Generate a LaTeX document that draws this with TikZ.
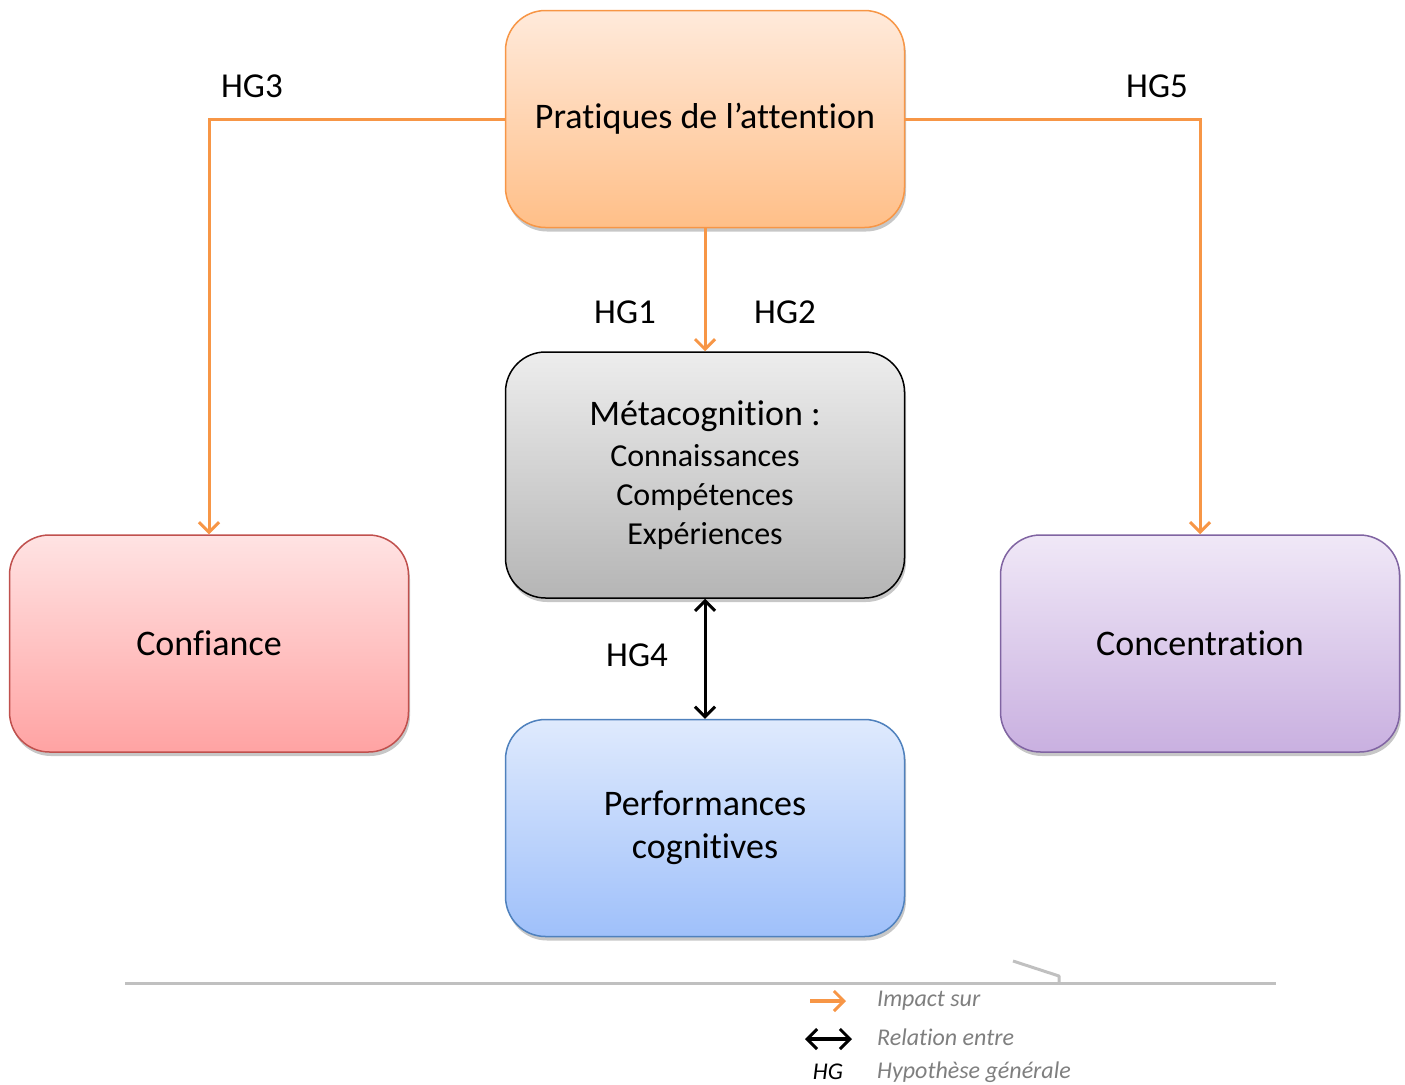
\documentclass[tikz,border=0pt]{standalone}
\usepackage{fontspec}
\setmainfont{Carlito}[Ligatures={NoCommon}]
\usetikzlibrary{arrows.meta,shadows}
\definecolor{orangeline}{HTML}{F79646}
\definecolor{legendgray}{HTML}{C0C0C0}
\definecolor{textgray}{HTML}{7F7F7F}
\definecolor{oTop}{HTML}{FFEADB}
\definecolor{oBot}{HTML}{FFBF88}
\definecolor{gTop}{HTML}{EDEDED}
\definecolor{gBot}{HTML}{B5B5B5}
\definecolor{rLine}{HTML}{C0504D}
\definecolor{rTop}{HTML}{FFE3E3}
\definecolor{rBot}{HTML}{FFA3A3}
\definecolor{pLine}{HTML}{8064A2}
\definecolor{pTop}{HTML}{F0E8F7}
\definecolor{pBot}{HTML}{C9B0E0}
\definecolor{bLine}{HTML}{4F81BD}
\definecolor{bTop}{HTML}{DFEAFD}
\definecolor{bBot}{HTML}{9FC0FA}
\tikzset{
  box/.style={rectangle, rounded corners=40pt, minimum width=399pt, minimum height=217pt,
    line width=1.5pt, align=center, inner sep=0pt,
    font=\fontsize{36}{44}\selectfont,
    drop shadow={shadow xshift=1.5pt, shadow yshift=-4pt, opacity=0.22, fill=black}},
  impact/.style={draw=orangeline, line width=3pt, -{Straight Barb[length=10pt,width=20pt,line width=3pt]}},
  relation/.style={draw=black, line width=3pt, {Straight Barb[length=10pt,width=20pt,line width=3pt]}-{Straight Barb[length=10pt,width=20pt,line width=3pt]}},
  hglabel/.style={font=\fontsize{35}{40}\selectfont, inner sep=0pt},
  legtext/.style={font=\fontsize{24}{28}\selectfont\itshape, text=textgray, anchor=west, inner sep=0pt},
}
\begin{document}
\begin{tikzpicture}[x=1pt,y=-1pt]
\useasboundingbox (0,0) rectangle (1405,1084);

\node[box, draw=orangeline, top color=oTop, bottom color=oBot] (prat) at (705,119) {Pratiques de l’attention};
\node[box, minimum height=246pt, draw=black, top color=gTop, bottom color=gBot, font=\fontsize{36}{39}\selectfont] (meta) at (705,475)
  {\raisebox{0pt}{Métacognition :}\\[2pt]{\fontsize{32}{39}\selectfont Connaissances}\\{\fontsize{32}{39}\selectfont Compétences}\\{\fontsize{32}{39}\selectfont Expériences}};
\node[box, draw=rLine, top color=rTop, bottom color=rBot] (conf) at (209,643.5) {Confiance};
\node[box, draw=pLine, top color=pTop, bottom color=pBot] (conc) at (1200,643.5) {Concentration};
\node[box, draw=bLine, top color=bTop, bottom color=bBot] (perf) at (705,828) {Performances\\[-1pt]cognitives};

\coordinate (cl) at (209,119);
\coordinate (cr) at (1200,119);
\draw[impact] (prat.west |- cl) -- (cl) -- (conf.north);
\draw[impact] (prat.east |- cr) -- (cr) -- (conc.north);
\draw[impact] (prat.south) -- (meta.north);
\draw[relation] (meta.south) -- (perf.north);

\node[hglabel] (hg3) at (252,86) {HG3};
\node[hglabel] (hg5) at (1157,86) {HG5};
\node[hglabel] (hg1) at (625,312) {HG1};
\node[hglabel] (hg2) at (785,312) {HG2};
\node[hglabel] (hg4) at (637,655) {HG4};

% legend
\coordinate (la) at (125,983);
\coordinate (lb) at (1276,983);
\draw[legendgray, line width=3pt] (la) -- (lb);
\coordinate (ma) at (1013,961);
\coordinate (mb) at (1059,976);
\coordinate (mc) at (1059,983);
\draw[legendgray, line width=3pt, line join=round] (ma) -- (mb) -- (mc);

\coordinate (ia) at (810,1001);
\coordinate (ib) at (846,1001);
\draw[impact, line width=3.5pt] (ia) -- (ib);
\coordinate (ra) at (805,1039);
\coordinate (rb) at (852,1039);
\draw[relation, line width=3.5pt] (ra) -- (rb);
\node[font=\fontsize{24}{28}\selectfont\itshape, inner sep=0pt] (hgl) at (828,1072) {HG};

\node[legtext] (t1) at (877,1001) {Impact sur};
\node[legtext] (t2) at (877,1037) {Relation entre};
\node[legtext] (t3) at (877,1072) {Hypothèse générale};
\end{tikzpicture}
\end{document}
